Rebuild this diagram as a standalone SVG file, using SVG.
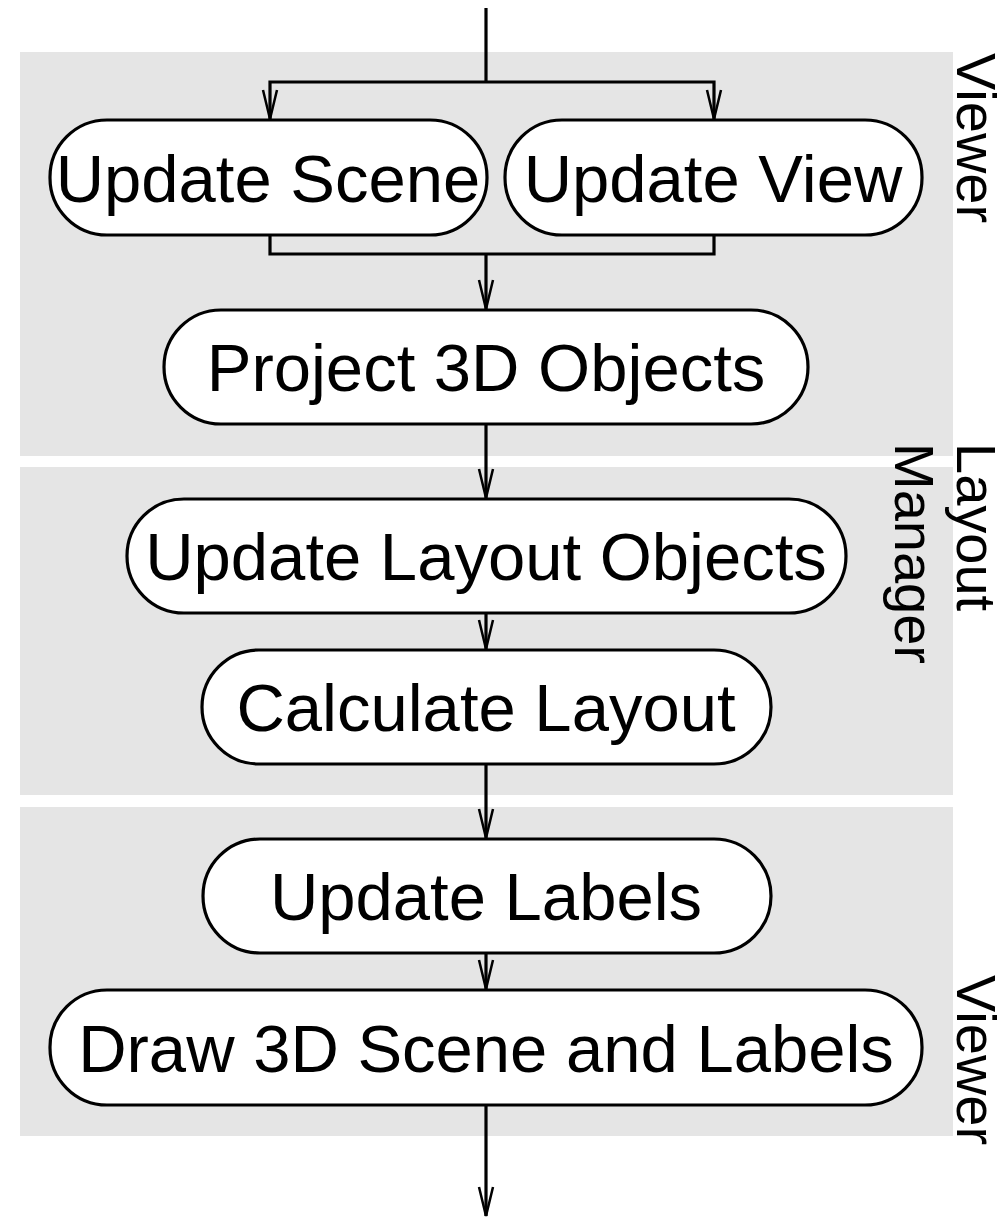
<svg xmlns="http://www.w3.org/2000/svg" width="1008" height="1218" viewBox="0 0 1008 1218">
<style>
.lane{fill:#e5e5e5;stroke:none}
.node rect{fill:#ffffff;stroke:#000000;stroke-width:3.2}
.node text{font-family:"Liberation Sans",Arial,sans-serif;font-size:67px;fill:#000;text-anchor:middle}
.lbl{font-family:"Liberation Sans",Arial,sans-serif;font-size:56px;fill:#000}
#connectors path{fill:none;stroke:#000;stroke-width:3.2}
</style>
<defs>
<marker id="arr" markerUnits="userSpaceOnUse" viewBox="-32 -10 34 20" markerWidth="34" markerHeight="20" refX="0" refY="0" orient="auto">
<path d="M-29,-7 L0,0 L-29,7" fill="none" stroke="#000" stroke-width="2.5"/>
</marker>
</defs>
<g id="lanes">
<rect class="lane" x="20" y="52" width="933" height="404"/>
<rect class="lane" x="20" y="467" width="933" height="328"/>
<rect class="lane" x="20" y="807" width="933" height="329"/>
<text class="lbl" transform="translate(957,53) rotate(90)">Viewer</text>
<text class="lbl" transform="translate(957,443) rotate(90)">Layout</text>
<text class="lbl" transform="translate(895,443) rotate(90)">Manager</text>
<text class="lbl" transform="translate(957,975) rotate(90)">Viewer</text>
</g>
<g id="connectors">
<path d="M486,8 V82"/>
<path d="M486,82 H270 V119" marker-end="url(#arr)"/>
<path d="M486,82 H714 V119" marker-end="url(#arr)"/>
<path d="M270,235 V254 H714 V235"/>
<path d="M486,254 V309" marker-end="url(#arr)"/>
<path d="M486,424 V498" marker-end="url(#arr)"/>
<path d="M486,613 V649" marker-end="url(#arr)"/>
<path d="M486,764 V838" marker-end="url(#arr)"/>
<path d="M486,953 V989" marker-end="url(#arr)"/>
<path d="M486,1105 V1216" marker-end="url(#arr)"/>
</g>
<g id="n-update-scene" class="node">
<rect x="50" y="120" width="437" height="115" rx="57" ry="57"/>
<text x="268" y="202">Update Scene</text>
</g>
<g id="n-update-view" class="node">
<rect x="505" y="120" width="417" height="115" rx="57" ry="57"/>
<text x="713" y="202">Update View</text>
</g>
<g id="n-project" class="node">
<rect x="164" y="310" width="644" height="114" rx="57" ry="57"/>
<text x="486" y="391">Project 3D Objects</text>
</g>
<g id="n-update-layout" class="node">
<rect x="127" y="499" width="719" height="114" rx="57" ry="57"/>
<text x="486" y="580">Update Layout Objects</text>
</g>
<g id="n-calc-layout" class="node">
<rect x="202" y="650" width="569" height="114" rx="57" ry="57"/>
<text x="486" y="731">Calculate Layout</text>
</g>
<g id="n-update-labels" class="node">
<rect x="203" y="839" width="568" height="114" rx="57" ry="57"/>
<text x="486" y="920">Update Labels</text>
</g>
<g id="n-draw" class="node">
<rect x="50" y="990" width="872" height="115" rx="57" ry="57"/>
<text x="486" y="1072">Draw 3D Scene and Labels</text>
</g>
</svg>
